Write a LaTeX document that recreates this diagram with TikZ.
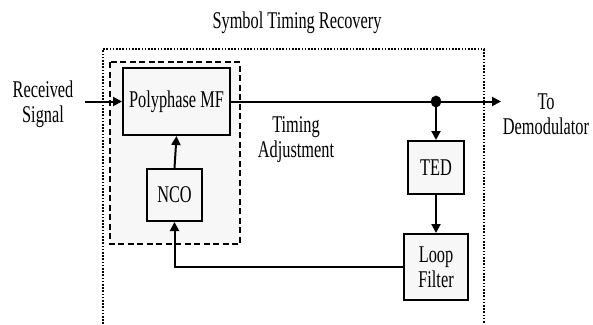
\documentclass[tikz,border=0pt]{standalone}
\usepackage{fontspec}
\setmainfont{Liberation Serif}
\usetikzlibrary{arrows.meta}
\newcommand{\sx}[1]{\scalebox{0.68}[1]{#1}}
\begin{document}
\begin{tikzpicture}[x=1pt,y=-1pt,
  every node/.style={font=\fontsize{24}{25}\selectfont},
  blk/.style={draw, line width=2pt, fill=black!3, inner sep=0pt, align=center},
  conn/.style={line width=2pt, -{Triangle[length=9pt,width=9pt]}},
  lbl/.style={align=center, inner sep=0pt}]
\useasboundingbox (0,0) rectangle (593,324);
% outer dotted region
\draw[line width=1.6pt, dash pattern=on 1.6pt off 1.6pt] (103,324) -- (103,49) -- (484,49) -- (484,324);
% inner dashed region
\draw[line width=1.8pt, dash pattern=on 6pt off 3.5pt, fill=black!3] (110,62) rectangle (240,244);
% blocks
\node[blk, minimum width=107pt, minimum height=67pt] (mf) at (176.5,101.5) {\sx{Polyphase MF}};
\node[blk, minimum width=55pt, minimum height=52pt] (nco) at (174.5,195) {\sx{NCO}};
\node[blk, minimum width=56pt, minimum height=53pt] (ted) at (436,167.5) {\sx{TED}};
\node[blk, minimum width=64pt, minimum height=66pt] (lf) at (436,267) {\sx{Loop}\\\sx{Filter}};
% labels
\node[lbl] (title) at (297,23) {\sx{Symbol Timing Recovery}};
\node[lbl] (rx) at (43,104) {\sx{Received}\\\sx{Signal}};
\node[lbl] (dem) at (546,114) {\sx{To}\\\sx{Demodulator}};
\node[lbl] (adj) at (296,140) {\sx{Timing}\\\sx{Adjustment}};
% connectors
\coordinate (in) at (85,101.5);
\coordinate (br) at (436,101.5);
\coordinate (out) at (501,101.5);
\coordinate (fb) at (174.5,267);
\draw[conn] (in) -- (mf.west);
\draw[conn] (mf.east) -- (out);
\fill (br) ellipse (5pt and 6pt);
\draw[conn] (br) -- (ted.north);
\draw[conn] (ted.south) -- (lf.north);
\draw[conn] (lf.west) -- (fb) -- (nco.south);
\draw[conn] (nco.north) -- (mf.south);
\end{tikzpicture}
\end{document}
